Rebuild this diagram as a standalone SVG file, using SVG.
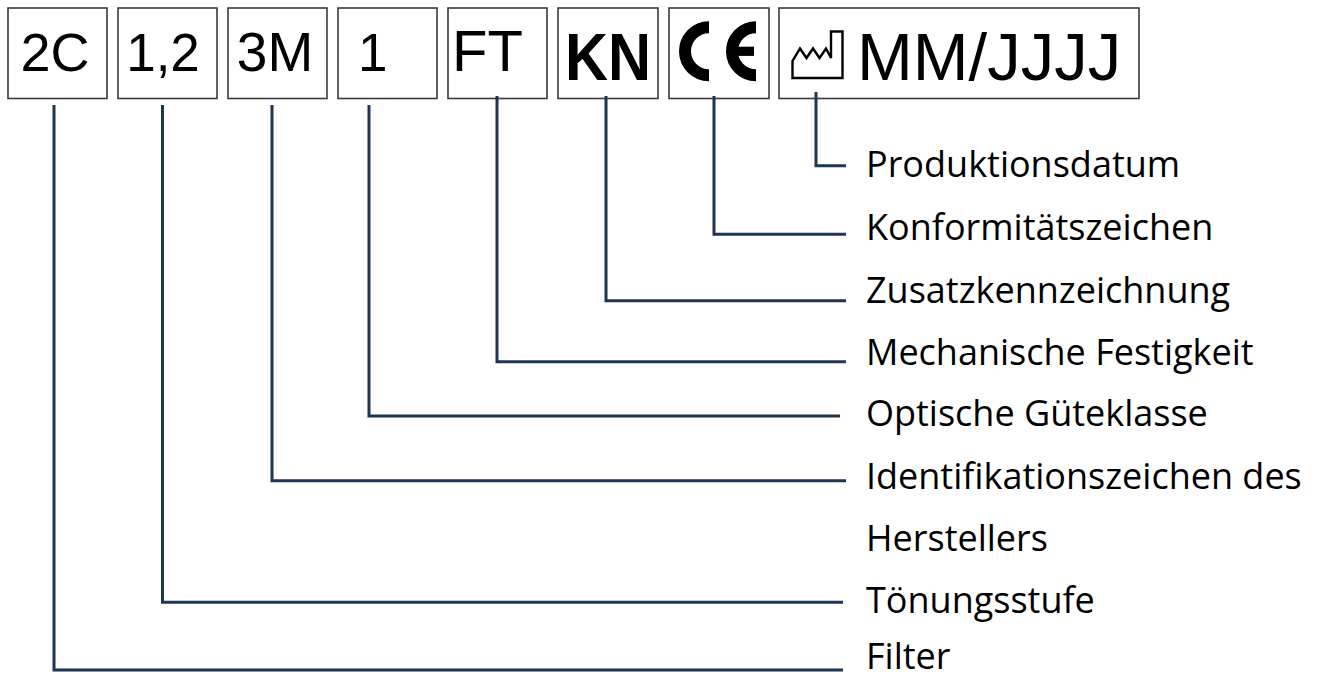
<svg xmlns="http://www.w3.org/2000/svg" width="1321" height="679" viewBox="0 0 1321 679">
<style>
.box{fill:#fff;stroke:#3a3a3a;stroke-width:1.6}
.sym{font-family:"Liberation Sans",Arial,sans-serif;fill:#000}
.lbl{font-family:"Open Sans","Noto Sans",sans-serif;font-size:36px;fill:#000}
.con{fill:none;stroke:#1f3551;stroke-width:3}
</style>
<rect width="1321" height="679" fill="#fff"/>
<g id="box-2c"><rect class="box" x="8" y="8" width="99" height="90.5"/><text class="sym" x="55" y="70.5" font-size="54" text-anchor="middle">2C</text></g>
<g id="box-12"><rect class="box" x="118" y="8" width="99" height="90.5"/><text class="sym" x="163" y="70.5" font-size="53" text-anchor="middle">1,2</text></g>
<g id="box-3m"><rect class="box" x="228" y="8" width="99" height="90.5"/><text class="sym" x="275" y="70.5" font-size="55" text-anchor="middle">3M</text></g>
<g id="box-1"><rect class="box" x="338" y="8" width="99" height="90.5"/><text class="sym" x="358" y="70.5" font-size="53">1</text></g>
<g id="box-ft"><rect class="box" x="448" y="8" width="99" height="90.5"/><text class="sym" x="452" y="71" font-size="58">FT</text></g>
<g id="box-kn"><rect class="box" x="558" y="8" width="100" height="90.5"/><text class="sym" x="608" y="80" font-size="67" font-weight="bold" text-anchor="middle" textLength="86" lengthAdjust="spacingAndGlyphs">KN</text></g>
<g id="box-ce"><rect class="box" x="669" y="8" width="100" height="90.5"/>
<path d="M709 27.3 A24 24 0 0 0 709 75.3" fill="none" stroke="#000" stroke-width="12"/>
<path d="M756 27.3 A24 24 0 0 0 756 75.3" fill="none" stroke="#000" stroke-width="12"/>
<rect x="737" y="46.7" width="17" height="9.2" fill="#000"/>
</g>
<g id="box-date"><rect class="box" x="779" y="8" width="360" height="90.5"/>
<path d="M792.5 78 V61 L800 48.5 L806.5 58 L813 48.5 L819.5 58 L826 48.5 L831 58 V31.5 H842.5 V78 Z" fill="none" stroke="#000" stroke-width="2.4" stroke-linejoin="miter"/>
<text class="sym" x="857" y="80" font-size="67">MM/JJJJ</text></g>
<g id="connectors">
<path class="con" d="M54 105 V670 H843"/>
<path class="con" d="M162.5 105 V602.3 H843"/>
<path class="con" d="M272 105 V480.7 H846"/>
<path class="con" d="M369 105 V416 H840"/>
<path class="con" d="M497 96 V361.7 H846"/>
<path class="con" d="M606 96 V300.7 H846"/>
<path class="con" d="M714 96 V234.3 H846"/>
<path class="con" d="M816 92 V165.7 H846"/>
</g>
<g id="labels">
<text class="lbl" x="866" y="177.3">Produktionsdatum</text>
<text class="lbl" x="866" y="239.8">Konformitätszeichen</text>
<text class="lbl" x="866" y="302.5">Zusatzkennzeichnung</text>
<text class="lbl" x="866" y="364.8">Mechanische Festigkeit</text>
<text class="lbl" x="866" y="426.3">Optische Güteklasse</text>
<text class="lbl" x="866" y="488.5">Identifikationszeichen des</text>
<text class="lbl" x="866" y="550.6">Herstellers</text>
<text class="lbl" x="866" y="613.2">Tönungsstufe</text>
<text class="lbl" x="866" y="669">Filter</text>
</g>
</svg>
